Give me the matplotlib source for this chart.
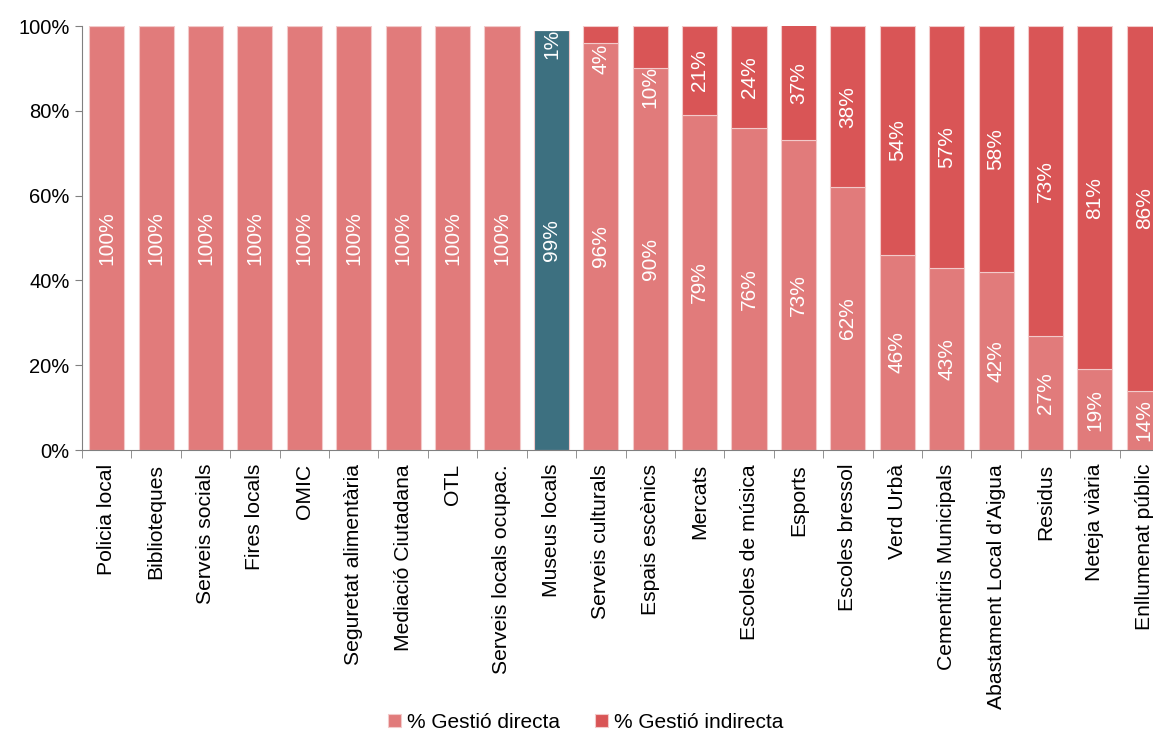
import numpy as np
import matplotlib
matplotlib.use('Agg')
import matplotlib.pyplot as plt

plt.rcParams['font.family'] = ['Liberation Sans', 'DejaVu Sans']

# data
serveis = ['Policia local', 'Biblioteques', 'Serveis socials', 'Fires locals', 'OMIC',
           'Seguretat alimentària', 'Mediació Ciutadana', 'OTL', 'Serveis locals ocupac.',
           'Museus locals', 'Serveis culturals', 'Espais escènics', 'Mercats',
           'Escoles de música', 'Esports', 'Escoles bressol', 'Verd Urbà',
           'Cementiris Municipals', "Abastament Local d'Aigua", 'Residus',
           'Neteja viària', 'Enllumenat públic']
directa = [100, 100, 100, 100, 100, 100, 100, 100, 100, 99, 96, 90, 79, 76, 73, 62, 46, 43, 42, 27, 19, 14]
indirecta = [0, 0, 0, 0, 0, 0, 0, 0, 0, 1, 4, 10, 21, 24, 37, 38, 54, 57, 58, 73, 81, 86]
destacat = 'Museus locals'

c_dir = '#e17b7b'
c_ind = '#d95556'
c_hl = '#3d7080'

x = np.arange(len(serveis))
fig = plt.figure(figsize=(11.53, 7.31), dpi=100)
# the plot area runs a bit past the right edge, as in the original
ax = fig.add_axes([82 / 1153, 0.3844, 1087 / 1153, 0.58])

col_dir = [c_hl if s == destacat else c_dir for s in serveis]
col_ind = ['white' if s == destacat else c_ind for s in serveis]
edge_ind = ['white' if s == destacat else '#f3caca' for s in serveis]
ax.bar(x, directa, width=0.71, color=col_dir, edgecolor='#f3caca', linewidth=0.8, label='% Gestió directa')
ax.bar(x, indirecta, width=0.71, bottom=directa, color=col_ind, edgecolor=edge_ind,
       linewidth=0.8, label='% Gestió indirecta')

# labels (small top segments get their label pushed down)
for i in range(len(serveis)):
    d = directa[i]
    ax.text(i, d / 2, str(d) + '%', rotation=90, ha='center', va='center', color='white', fontsize=15)
    v = indirecta[i]
    if v > 0:
        top = min(d + v, 100)
        yc = (d + top) / 2
        if v < 15:
            yc = d - 3.2 - 0.12 * v
        ax.text(i, yc, str(v) + '%', rotation=90, ha='center', va='center', color='white', fontsize=15)

ax.set_ylim(0, 100)
ax.set_xlim(-0.5, len(serveis) - 0.5)
ax.set_yticks(range(0, 101, 20))
ax.set_yticklabels([str(t) + '%' for t in range(0, 101, 20)], fontsize=14.5)
ax.set_xticks(x)
ax.set_xticklabels(serveis, rotation=90, fontsize=15.2, va='top', ha='center')
ax.set_xticks(np.arange(-0.5, len(serveis), 1), minor=True)
ax.tick_params(axis='x', which='major', length=0, pad=10)
ax.tick_params(axis='x', which='minor', length=6, color='#808080')
ax.tick_params(axis='y', length=5, color='#808080', pad=4)
for s in ['top', 'right']:
    ax.spines[s].set_visible(False)
ax.spines['left'].set_color('#808080')
ax.spines['bottom'].set_color('#808080')

h, l = ax.get_legend_handles_labels()
fig.legend(h, l, loc='lower center', bbox_to_anchor=(0.508, -0.027), ncol=2, frameon=False,
           fontsize=15, handlelength=0.6, handleheight=0.6, handletextpad=0.3, columnspacing=1.7)

fig.savefig('out.png', dpi=100)
